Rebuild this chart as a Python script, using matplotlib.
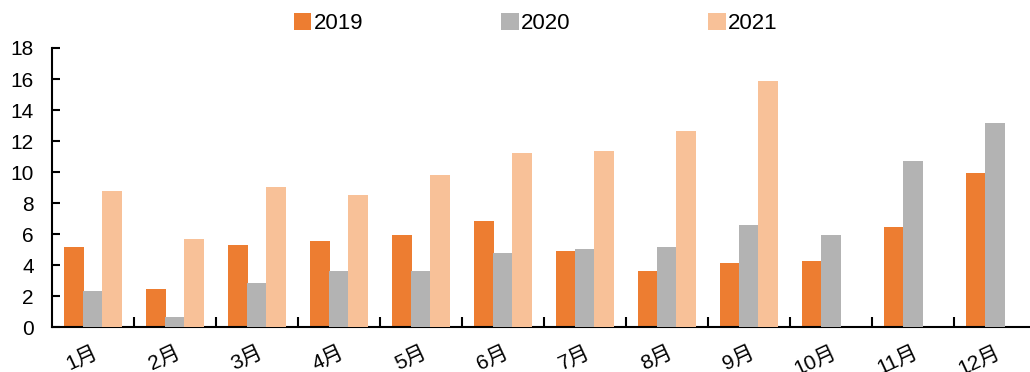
import numpy as np
import matplotlib.pyplot as plt
import matplotlib.transforms as mtransforms
from matplotlib.ticker import FixedLocator, MultipleLocator

months = ['1月', '2月', '3月', '4月', '5月', '6月', '7月', '8月', '9月', '10月', '11月', '12月']
v2019 = [5.15, 2.47, 5.30, 5.56, 5.95, 6.85, 4.92, 3.63, 4.15, 4.27, 6.46, 9.94]
v2020 = [2.34, 0.67, 2.86, 3.63, 3.63, 4.79, 5.05, 5.18, 6.59, 5.95, 10.72, 13.17]
v2021 = [8.78, 5.69, 9.04, 8.53, 9.82, 11.23, 11.36, 12.65, 15.87, np.nan, np.nan, np.nan]

plt.rcParams['font.family'] = ['Liberation Sans', 'Noto Sans CJK SC', 'DejaVu Sans']

fig = plt.figure(figsize=(10.3, 3.72), dpi=100)
ax = fig.add_axes([0.0505, 0.12, 0.9555, 0.751])

x = np.arange(len(months)) + 0.5
w = 0.244
step = 0.232
ax.bar(x - step, v2019, w, color='#ED7D31', label='2019', zorder=2)
ax.bar(x, v2020, w, color='#B3B3B3', label='2020', zorder=3)
ax.bar(x + step, v2021, w, color='#F8C198', label='2021', zorder=4)

ax.set_xlim(0, 12)
ax.set_ylim(0, 18)
ax.yaxis.set_major_locator(MultipleLocator(2))
ax.set_xticks(x)
ax.set_xticklabels(months, rotation=25, ha='right', rotation_mode='anchor',
                   fontsize=15, family=['Liberation Sans', 'Noto Sans CJK SC', 'DejaVu Sans'])
shift = mtransforms.ScaledTranslation(-4 / 100, 0, fig.dpi_scale_trans)
for lbl in ax.get_xticklabels():
    lbl.set_transform(lbl.get_transform() + shift)
ax.xaxis.set_minor_locator(FixedLocator(np.arange(1, 12)))
ax.tick_params(axis='x', which='major', length=0, pad=11)
ax.tick_params(axis='x', which='minor', direction='in', length=7, width=1.5)
ax.tick_params(axis='y', direction='in', length=6, width=1.5, labelsize=15, pad=13)

for s in ['top', 'right']:
    ax.spines[s].set_visible(False)
for s in ['left', 'bottom']:
    ax.spines[s].set_linewidth(1.5)

fig.legend(loc='upper center', bbox_to_anchor=(0.52, 1.02), ncol=3, frameon=False,
           fontsize=16, handlelength=0.8, handleheight=0.8, handletextpad=0.1,
           columnspacing=6.2)

fig.savefig('out.png', dpi=100)
